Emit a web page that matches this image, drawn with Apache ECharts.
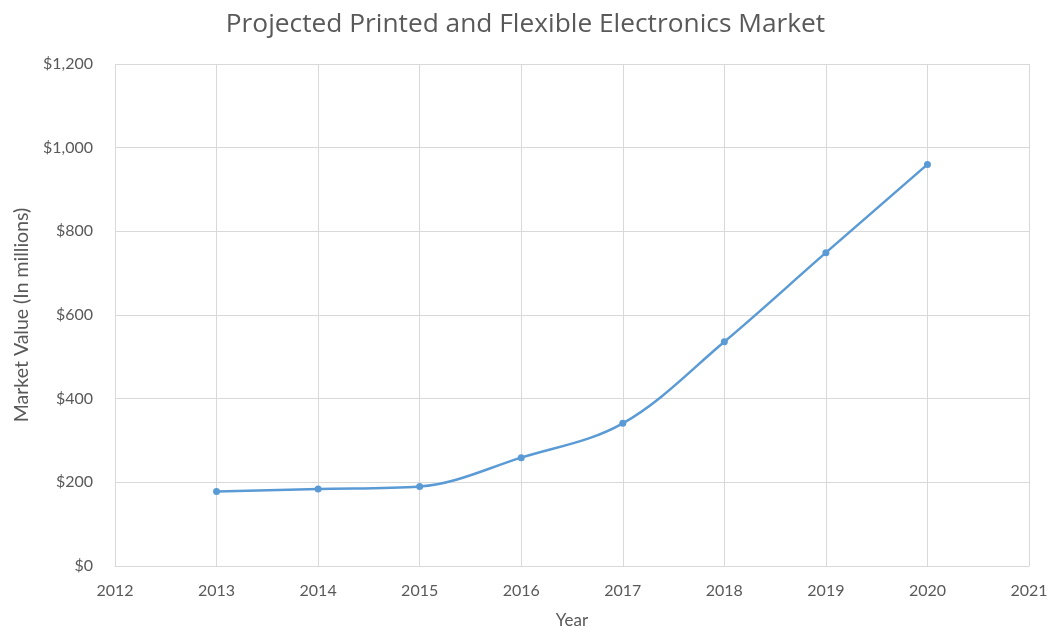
<!DOCTYPE html>
<html>
<head>
<meta charset="utf-8">
<script src="https://cdn.jsdelivr.net/npm/echarts@6/dist/echarts.min.js"></script>
<style>
  html, body { margin: 0; padding: 0; background: #fff; }
  #chart { width: 1051px; height: 628px; }
</style>
</head>
<body>
<div id="chart"></div>
<script>
// years and market value ($ millions)
const years = [2013, 2014, 2015, 2016, 2017, 2018, 2019, 2020];
const marketValue = [178, 184, 190, 259, 341, 536, 749, 960];

const textColor = '#595959';
const gridColor = '#D9D9D9';
const lineColor = '#5B9BD5';
const titleFont = '"Open Sans", "Noto Sans", sans-serif';
const font = 'Lato, "Open Sans", sans-serif';

const chart = echarts.init(document.getElementById('chart'), null, { renderer: 'canvas' });

chart.setOption({
  animation: false,
  title: {
    text: 'Projected Printed and Flexible Electronics Market',
    left: 'center',
    top: 7,
    textStyle: { color: textColor, fontSize: 26.3, fontWeight: 'normal', fontFamily: titleFont }
  },
  grid: { left: 115, right: 22, top: 64, bottom: 62, outerBoundsMode: 'none' },
  xAxis: {
    type: 'value',
    min: 2012,
    max: 2021,
    interval: 1,
    name: 'Year',
    nameLocation: 'middle',
    nameGap: 46,
    nameTextStyle: { color: textColor, fontSize: 17, fontFamily: font },
    axisLine: { show: true, lineStyle: { color: gridColor } },
    axisTick: { show: false },
    axisLabel: {
      color: textColor, fontSize: 16, fontFamily: font, margin: 17,
      formatter: v => String(v)
    },
    splitLine: { show: true, lineStyle: { color: gridColor } }
  },
  yAxis: {
    type: 'value',
    min: 0,
    max: 1200,
    interval: 200,
    name: 'Market Value (In millions)',
    nameLocation: 'middle',
    nameGap: 82,
    nameTextStyle: { color: textColor, fontSize: 19.5, fontFamily: font },
    axisLine: { show: false },
    axisTick: { show: false },
    axisLabel: {
      color: textColor, fontSize: 16, fontFamily: font, margin: 22,
      formatter: v => '$' + v.toLocaleString('en-US')
    },
    splitLine: { show: true, lineStyle: { color: gridColor } }
  },
  series: [{
    type: 'line',
    data: years.map((y, i) => [y, marketValue[i]]),
    smooth: 0.35,
    symbol: 'circle',
    symbolSize: 7,
    lineStyle: { color: lineColor, width: 2.5 },
    itemStyle: { color: lineColor }
  }]
});
</script>
</body>
</html>
